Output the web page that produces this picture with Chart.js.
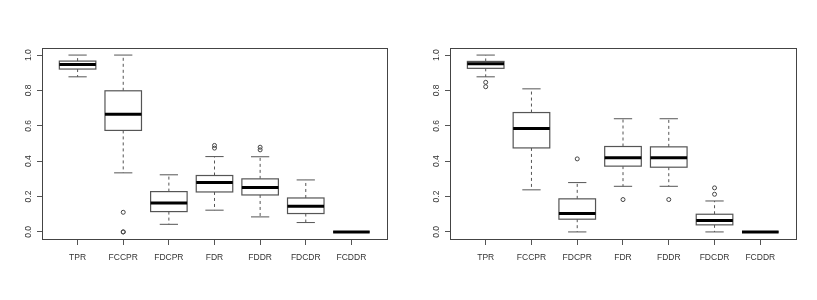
<!DOCTYPE html>
<html>
<head>
<meta charset="utf-8">
<script src="https://cdn.jsdelivr.net/npm/chart.js@4/dist/chart.umd.min.js"></script>
<style>
  body { margin: 0; background: #fff; }
  .wrap { display: flex; width: 817px; height: 300px; }
  canvas { display: block; }
</style>
</head>
<body>
<div class="wrap">
  <canvas id="leftChart" width="408" height="300"></canvas>
  <canvas id="rightChart" width="409" height="300"></canvas>
</div>
<script>
// --- DATA ---
const categories = ['TPR', 'FCCPR', 'FDCPR', 'FDR', 'FDDR', 'FDCDR', 'FCDDR'];
const yTicks = [0.0, 0.2, 0.4, 0.6, 0.8, 1.0];

// left panel
const leftLow      = [0.877, 0.334, 0.043, 0.123, 0.085, 0.053, 0];
const leftQ1       = [0.921, 0.574, 0.115, 0.226, 0.209, 0.104, 0];
const leftMedian   = [0.947, 0.666, 0.164, 0.279, 0.251, 0.145, 0];
const leftQ3       = [0.966, 0.798, 0.228, 0.319, 0.300, 0.192, 0];
const leftHigh     = [1.000, 1.000, 0.323, 0.426, 0.425, 0.294, 0];
const leftOutliers = [[], [0.111, 0.0, 0.0], [], [0.489, 0.474], [0.479, 0.464], [], []];

// right panel
const rightLow      = [0.877, 0.238, 0.000, 0.258, 0.258, 0.000, 0];
const rightQ1       = [0.925, 0.475, 0.072, 0.372, 0.366, 0.040, 0];
const rightMedian   = [0.951, 0.585, 0.104, 0.419, 0.419, 0.064, 0];
const rightQ3       = [0.964, 0.675, 0.187, 0.483, 0.481, 0.100, 0];
const rightHigh     = [1.000, 0.809, 0.279, 0.640, 0.640, 0.175, 0];
const rightOutliers = [[0.846, 0.821], [], [0.413], [0.183], [0.183], [0.249, 0.213], []];

const FONT = '"Liberation Sans", Arial, sans-serif';
const TEXT_COLOR = '#333';
const LINE_COLOR = '#555';

// --- boxplot plugin: boxes, whiskers, medians drawn through the scales ---
const boxPlugin = {
    id: 'rBox',
    beforeDatasetsDraw(chart) {
        const s = chart.options.plugins.rBox;
        const x = chart.scales.x, y = chart.scales.y;
        const ctx = chart.ctx;
        ctx.save();
        categories.forEach((c, i) => {
            const pos = i + 1;
            const xl = x.getPixelForValue(pos - 0.4), xr = x.getPixelForValue(pos + 0.4);
            const cl = x.getPixelForValue(pos - 0.2), cr = x.getPixelForValue(pos + 0.2);
            const xc = x.getPixelForValue(pos);
            const yLow = y.getPixelForValue(s.low[i]), yHigh = y.getPixelForValue(s.high[i]);
            const yQ1 = y.getPixelForValue(s.q1[i]), yQ3 = y.getPixelForValue(s.q3[i]);
            const yMed = y.getPixelForValue(s.median[i]);

            ctx.strokeStyle = LINE_COLOR;
            ctx.lineWidth = 1;
            // whiskers (dashed)
            ctx.setLineDash([3, 3]);
            ctx.beginPath();
            ctx.moveTo(xc, yQ3); ctx.lineTo(xc, yHigh);
            ctx.moveTo(xc, yQ1); ctx.lineTo(xc, yLow);
            ctx.stroke();
            ctx.setLineDash([]);
            // staples
            ctx.beginPath();
            ctx.moveTo(cl, yHigh); ctx.lineTo(cr, yHigh);
            ctx.moveTo(cl, yLow); ctx.lineTo(cr, yLow);
            ctx.stroke();
            // box
            ctx.fillStyle = '#fff';
            ctx.fillRect(xl, yQ3, xr - xl, yQ1 - yQ3);
            ctx.lineWidth = 1.2;
            ctx.strokeRect(xl, yQ3, xr - xl, yQ1 - yQ3);
            // median
            ctx.strokeStyle = '#000';
            ctx.lineWidth = 3;
            ctx.beginPath();
            ctx.moveTo(xl, yMed); ctx.lineTo(xr, yMed);
            ctx.stroke();
        });
        ctx.restore();
    },
    afterDraw(chart) {
        const ctx = chart.ctx;
        const a = chart.chartArea;
        const y = chart.scales.y;
        ctx.save();
        // frame around plot region
        ctx.strokeStyle = '#444';
        ctx.lineWidth = 1;
        ctx.strokeRect(Math.round(a.left) + 0.5, Math.round(a.top) + 0.5,
                       Math.round(a.right - a.left), Math.round(a.bottom - a.top));
        // rotated y tick labels, R style
        ctx.fillStyle = TEXT_COLOR;
        ctx.font = '8.5px ' + FONT;
        ctx.textAlign = 'center';
        ctx.textBaseline = 'middle';
        yTicks.forEach(v => {
            ctx.save();
            ctx.translate(a.left - 13.5, y.getPixelForValue(v));
            ctx.rotate(-Math.PI / 2);
            ctx.fillText(v.toFixed(1), 0, 0);
            ctx.restore();
        });
        ctx.restore();
    }
};

function makeChart(id, low, q1, median, q3, high, outliers) {
    const points = [];
    outliers.forEach((list, i) => list.forEach(v => points.push({ x: i + 1, y: v })));

    return new Chart(document.getElementById(id), {
        type: 'scatter',
        data: {
            datasets: [{
                data: points,
                pointStyle: 'circle',
                pointRadius: 2,
                pointBorderWidth: 1,
                borderColor: '#444',
                backgroundColor: 'rgba(0,0,0,0)'
            }]
        },
        options: {
            responsive: false,
            animation: false,
            layout: { padding: { top: 48, right: 21, left: 0, bottom: 0 } },
            plugins: {
                legend: { display: false },
                tooltip: { enabled: false },
                rBox: { low, q1, median, q3, high }
            },
            scales: {
                x: {
                    type: 'linear',
                    min: 0.22, max: 7.78,
                    afterBuildTicks: s => { s.ticks = categories.map((c, i) => ({ value: i + 1 })); },
                    afterFit: s => { s.height = 61; },
                    grid: { drawOnChartArea: false, tickLength: 6, color: LINE_COLOR },
                    border: { color: '#444' },
                    ticks: {
                        autoSkip: false, maxRotation: 0, padding: 8,
                        color: TEXT_COLOR, font: { family: FONT, size: 8.5 },
                        callback: v => categories[v - 1]
                    }
                },
                y: {
                    min: -0.04, max: 1.04,
                    afterBuildTicks: s => { s.ticks = yTicks.map(v => ({ value: v })); },
                    afterFit: s => { s.width = 42; },
                    grid: { drawOnChartArea: false, tickLength: 5, color: LINE_COLOR },
                    border: { color: '#444' },
                    ticks: { display: false }
                }
            }
        },
        plugins: [boxPlugin]
    });
}

makeChart('leftChart', leftLow, leftQ1, leftMedian, leftQ3, leftHigh, leftOutliers);
makeChart('rightChart', rightLow, rightQ1, rightMedian, rightQ3, rightHigh, rightOutliers);
</script>
</body>
</html>
